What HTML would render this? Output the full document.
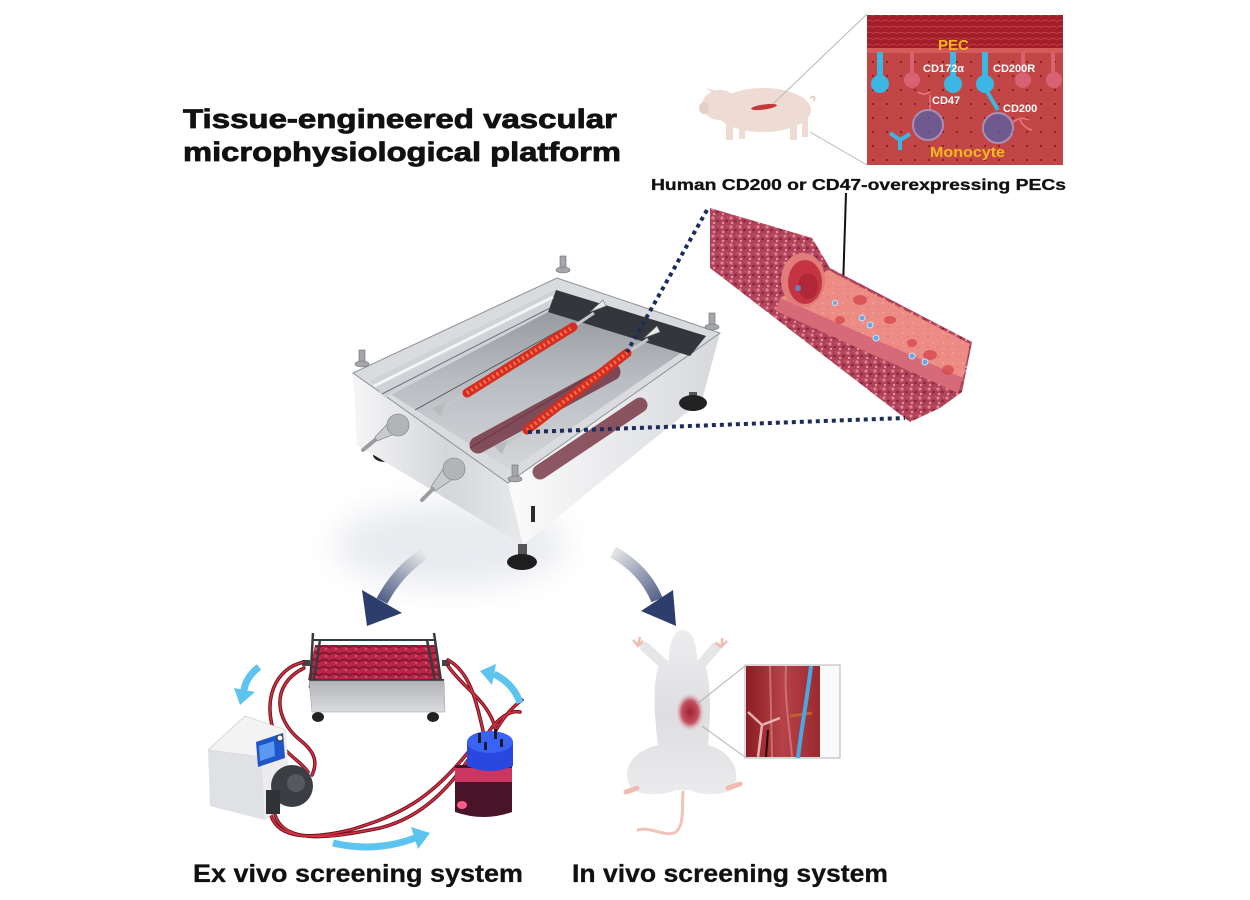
<!DOCTYPE html>
<html><head><meta charset="utf-8"><style>
html,body{margin:0;padding:0;background:#fff;}
svg{display:block;}
text{font-family:"Liberation Sans",Arial,sans-serif;font-weight:bold;}
</style></head><body>
<svg width="1250" height="900" viewBox="0 0 1250 900" xmlns="http://www.w3.org/2000/svg">
<defs>
<filter id="blur" x="-50%" y="-50%" width="200%" height="200%"><feGaussianBlur stdDeviation="16"/></filter>
<pattern id="vt" width="9" height="9" patternUnits="userSpaceOnUse">
<rect width="9" height="9" fill="#b0435a"/>
<circle cx="2" cy="2" r="1.6" fill="#dc8394"/><circle cx="6.5" cy="5" r="1.3" fill="#84243c"/>
<circle cx="3" cy="7" r="1.1" fill="#e89aaa"/><circle cx="7.6" cy="1" r="0.9" fill="#c85a70"/>
</pattern>
<pattern id="it" width="10" height="10" patternUnits="userSpaceOnUse">
<rect width="10" height="10" fill="#ec8c84"/><circle cx="3" cy="3" r="0.8" fill="#f7aca2"/><circle cx="8" cy="7" r="0.8" fill="#d87070"/>
</pattern>
<pattern id="dots" width="14" height="14" patternUnits="userSpaceOnUse">
<rect width="14" height="14" fill="#c34646"/><circle cx="5" cy="6" r="1.1" fill="#8a1e22"/>
</pattern>
<pattern id="musc" width="8" height="6" patternUnits="userSpaceOnUse">
<rect width="8" height="6" fill="#a31e28"/><path d="M0,4 Q4,1 8,3" stroke="#c0404a" stroke-width="1" fill="none"/>
</pattern>
<pattern id="cham" width="10" height="7" patternUnits="userSpaceOnUse">
<rect width="10" height="7" fill="#b8264a"/><path d="M0,3 Q5,0 10,4" stroke="#7a1028" stroke-width="1.4" fill="none"/><circle cx="6" cy="5" r="1" fill="#e45a78"/>
</pattern>
<linearGradient id="gLeft" x1="353" y1="0" x2="523" y2="0" gradientUnits="userSpaceOnUse">
<stop offset="0" stop-color="#f6f6f7"/><stop offset="0.55" stop-color="#d4d6d9"/><stop offset="1" stop-color="#e8e9eb"/></linearGradient>
<linearGradient id="gRight" x1="510" y1="0" x2="720" y2="0" gradientUnits="userSpaceOnUse">
<stop offset="0" stop-color="#fbfbfb"/><stop offset="1" stop-color="#d6d8dc"/></linearGradient>
<linearGradient id="gFloor" x1="0" y1="290" x2="0" y2="470" gradientUnits="userSpaceOnUse">
<stop offset="0" stop-color="#8c9096"/><stop offset="0.5" stop-color="#b9bcc1"/><stop offset="1" stop-color="#d4d6d9"/></linearGradient>
<linearGradient id="gArL" x1="422" y1="555" x2="375" y2="615" gradientUnits="userSpaceOnUse">
<stop offset="0" stop-color="#e2e3e6"/><stop offset="1" stop-color="#2d3e6e"/></linearGradient>
<linearGradient id="gArR" x1="615" y1="552" x2="668" y2="615" gradientUnits="userSpaceOnUse">
<stop offset="0" stop-color="#e2e3e6"/><stop offset="1" stop-color="#2d3e6e"/></linearGradient>
<linearGradient id="gMouse" x1="0" y1="630" x2="0" y2="800" gradientUnits="userSpaceOnUse">
<stop offset="0" stop-color="#ededef"/><stop offset="0.5" stop-color="#dedee1"/><stop offset="1" stop-color="#ececee"/></linearGradient>
<linearGradient id="gMus2" x1="746" y1="0" x2="820" y2="0" gradientUnits="userSpaceOnUse">
<stop offset="0" stop-color="#8c1e24"/><stop offset="0.5" stop-color="#b54248"/><stop offset="1" stop-color="#9a2a30"/></linearGradient>
<linearGradient id="gBody" x1="0" y1="680" x2="0" y2="713" gradientUnits="userSpaceOnUse">
<stop offset="0" stop-color="#b0b2b6"/><stop offset="1" stop-color="#dcdde0"/></linearGradient>
<radialGradient id="gWound" cx="0.5" cy="0.5" r="0.5"><stop offset="0" stop-color="#a02030"/><stop offset="0.6" stop-color="#c45060"/><stop offset="1" stop-color="#e0b0b4" stop-opacity="0"/></radialGradient>
</defs>
<rect width="1250" height="900" fill="#fff"/>

<!-- Title -->
<text x="183" y="128" font-size="27" textLength="434" lengthAdjust="spacingAndGlyphs" fill="#111" stroke="#111" stroke-width="0.8">Tissue-engineered vascular</text>
<text x="183" y="161" font-size="27" textLength="438" lengthAdjust="spacingAndGlyphs" fill="#111" stroke="#111" stroke-width="0.8">microphysiological platform</text>

<!-- Pig -->
<g fill="#eedbd3">
<ellipse cx="763" cy="110" rx="48" ry="22"/>
<ellipse cx="720" cy="105" rx="18" ry="15"/>
<ellipse cx="704" cy="108" rx="5" ry="6" fill="#e6cfc6"/>
<polygon points="714,94 706,88 722,92"/>
<rect x="726" y="118" width="7" height="22"/><rect x="739" y="120" width="6" height="19"/>
<rect x="790" y="118" width="7" height="22"/><rect x="802" y="118" width="6" height="19"/>
</g>
<path d="M810,98 q6,-4 4,3" stroke="#e6cfc6" stroke-width="2" fill="none"/>
<ellipse cx="764" cy="107" rx="13" ry="2.5" fill="#c63838" transform="rotate(-8 764 107)"/>
<line x1="773" y1="104" x2="867" y2="14" stroke="#b8b8b8" stroke-width="1"/>
<line x1="810" y1="132" x2="867" y2="165" stroke="#b8b8b8" stroke-width="1"/>

<!-- Top inset -->
<rect x="867" y="15" width="196" height="150" fill="url(#dots)"/>
<rect x="867" y="15" width="196" height="36" fill="url(#musc)"/>
<rect x="867" y="48" width="196" height="5" fill="#d55a5a"/>
<g fill="#d86272">
<rect x="910" y="52" width="4" height="20"/><circle cx="912" cy="80" r="8"/>
<rect x="1021" y="52" width="4" height="20"/><circle cx="1023" cy="80" r="8"/>
<rect x="1051" y="52" width="4" height="20"/><circle cx="1054" cy="80" r="8"/>
</g>
<g fill="#3cb6e2">
<rect x="877" y="52" width="6" height="25"/><circle cx="880" cy="84" r="9"/>
<rect x="950" y="52" width="6" height="25"/><circle cx="953" cy="84" r="9"/>
<rect x="982" y="52" width="6" height="25"/><circle cx="985" cy="84" r="9"/>
</g>
<path d="M986,90 L998,110" stroke="#3cb6e2" stroke-width="4"/>
<path d="M918,92 q6,4 12,0 M930,95 l0,15" stroke="#e47a86" stroke-width="1.5" fill="none"/>
<circle cx="928" cy="125" r="15" fill="#5460a8" opacity="0.75" stroke="#a0a8d8" stroke-width="2"/>
<circle cx="998" cy="128" r="15" fill="#5460a8" opacity="0.75" stroke="#a0a8d8" stroke-width="2"/>
<path d="M900,150 L900,140 L890,133 M900,140 L910,134" stroke="#3cb6e2" stroke-width="4" fill="none"/>
<path d="M1013,122 q8,-6 16,-2 M1020,120 q4,8 12,10" stroke="#e47a86" stroke-width="1.5" fill="none"/>
<text x="938" y="50" font-size="15" fill="#f4b820">PEC</text>
<text x="923" y="72" font-size="11" fill="#fff">CD172α</text>
<text x="993" y="72" font-size="11" fill="#fff">CD200R</text>
<text x="932" y="104" font-size="11" fill="#fff">CD47</text>
<text x="1003" y="112" font-size="11" fill="#fff">CD200</text>
<text x="930" y="157" font-size="15" fill="#f4b820" textLength="75" lengthAdjust="spacingAndGlyphs">Monocyte</text>

<text x="651" y="190" font-size="16" textLength="415" lengthAdjust="spacingAndGlyphs" fill="#111" stroke="#111" stroke-width="0.3">Human CD200 or CD47-overexpressing PECs</text>
<line x1="846" y1="193" x2="843" y2="288" stroke="#111" stroke-width="2"/>

<!-- Vessel -->
<polygon points="710,208 812,238 830,268 972,342 962,392 940,408 910,422 710,268" fill="url(#vt)"/>
<polygon points="780,298 828,270 970,344 963,378" fill="url(#it)"/>
<polygon points="780,298 963,378 958,393 776,311" fill="#d66a78"/>
<ellipse cx="803" cy="280" rx="22" ry="27" fill="#e27c78"/>
<ellipse cx="805" cy="282" rx="17" ry="22" fill="#c43442"/>
<ellipse cx="808" cy="286" rx="10" ry="13" fill="#b02838"/>
<g fill="#d84a50" opacity="0.8">
<ellipse cx="860" cy="300" rx="7" ry="5"/><ellipse cx="890" cy="320" rx="6" ry="4"/><ellipse cx="930" cy="355" rx="7" ry="5"/>
<ellipse cx="840" cy="320" rx="5" ry="4"/><ellipse cx="912" cy="343" rx="5" ry="4"/><ellipse cx="948" cy="370" rx="6" ry="5"/>
</g>
<g fill="#6aa8e0" stroke="#c8e4f6" stroke-width="1">
<circle cx="862" cy="318" r="3"/><circle cx="870" cy="325" r="3"/><circle cx="876" cy="338" r="3"/>
<circle cx="912" cy="356" r="3"/><circle cx="925" cy="362" r="3"/><circle cx="835" cy="303" r="2.5"/>
</g>
<circle cx="798" cy="288" r="3" fill="#6a80c0"/>

<!-- Device shadow -->
<ellipse cx="450" cy="545" rx="115" ry="42" fill="#c8ccd8" opacity="0.4" filter="url(#blur)"/>

<!-- Device -->
<ellipse cx="385" cy="455" rx="12" ry="7" fill="#222"/>
<polygon points="353,373 508,483 523,545 357,445" fill="url(#gLeft)"/>
<polygon points="508,483 720,333 702,400 523,545" fill="url(#gRight)"/>
<polygon points="353,373 557,278 720,333 508,483" fill="#d9dbde" stroke="#8e9196" stroke-width="1"/>
<polygon points="370,381 556,290 706,336 510,470" fill="url(#gFloor)"/>
<polygon points="556,290 706,336 690,356 548,312" fill="#33363a"/>
<polygon points="370,381 556,290 548,312 385,398" fill="#cfd2d6"/>
<line x1="374" y1="386" x2="553" y2="297" stroke="#f4f4f4" stroke-width="3"/>
<line x1="382" y1="394" x2="550" y2="308" stroke="#6c7074" stroke-width="1"/>
<line x1="415" y1="410" x2="560" y2="330" stroke="#4a4e52" stroke-width="0.8"/>
<line x1="470" y1="448" x2="620" y2="358" stroke="#5a5e62" stroke-width="0.8"/>
<line x1="478" y1="445" x2="612" y2="372" stroke="#6a2232" stroke-width="17" stroke-linecap="round" opacity="0.75"/>
<line x1="540" y1="472" x2="640" y2="405" stroke="#6a2232" stroke-width="15" stroke-linecap="round" opacity="0.75"/>
<!-- tubes -->
<line x1="438" y1="411" x2="467" y2="393" stroke="#c4c6ca" stroke-width="3"/>
<line x1="573" y1="327" x2="594" y2="313" stroke="#c4c6ca" stroke-width="3"/>
<line x1="500" y1="448" x2="527" y2="430" stroke="#c4c6ca" stroke-width="3"/>
<line x1="627" y1="353" x2="648" y2="339" stroke="#c4c6ca" stroke-width="3"/>
<polygon points="590,312 603,300 606,306" fill="#e8e9eb" stroke="#777" stroke-width="0.6"/>
<polygon points="644,338 657,326 660,332" fill="#e8e9eb" stroke="#777" stroke-width="0.6"/>
<polygon points="432,408 446,402 440,416" fill="#b8babe"/>
<polygon points="494,446 508,440 502,454" fill="#b8babe"/>
<line x1="467" y1="393" x2="573" y2="327" stroke="#d42e20" stroke-width="9" stroke-linecap="round"/>
<line x1="467" y1="393" x2="573" y2="327" stroke="#ff7250" stroke-width="4" stroke-dasharray="2 3"/>
<line x1="527" y1="430" x2="627" y2="353" stroke="#d42e20" stroke-width="9" stroke-linecap="round"/>
<line x1="527" y1="430" x2="627" y2="353" stroke="#ff7250" stroke-width="4" stroke-dasharray="2 3"/>
<!-- bolts -->
<g fill="#a4a6aa" stroke="#6a6c70" stroke-width="0.6">
<rect x="359" y="350" width="6" height="14"/><ellipse cx="362" cy="364" rx="7" ry="3"/>
<rect x="560" y="256" width="6" height="14"/><ellipse cx="563" cy="270" rx="7" ry="3"/>
<rect x="709" y="313" width="6" height="14"/><ellipse cx="712" cy="327" rx="7" ry="3"/>
<rect x="512" y="465" width="6" height="14"/><ellipse cx="515" cy="479" rx="7" ry="3"/>
</g>
<!-- nozzles -->
<g stroke="#777a7e" stroke-width="0.6">
<polygon points="402,431 392,419 375,437 377,441" fill="#c8cacd"/>
<circle cx="398" cy="425" r="11" fill="#b2b4b8"/>
<line x1="375" y1="440" x2="363" y2="450" stroke="#9a9ca0" stroke-width="4" stroke-linecap="round"/>
<polygon points="459,475 447,463 431,487 435,491" fill="#c8cacd"/>
<circle cx="454" cy="469" r="11" fill="#b2b4b8"/>
<line x1="433" y1="489" x2="422" y2="500" stroke="#9a9ca0" stroke-width="4" stroke-linecap="round"/>
</g>
<rect x="531" y="506" width="4" height="16" fill="#2a2a2a"/>
<rect x="518" y="544" width="9" height="12" fill="#555"/>
<ellipse cx="522" cy="562" rx="15" ry="8" fill="#1e1e1e"/>
<rect x="689" y="392" width="8" height="8" fill="#555"/>
<ellipse cx="693" cy="403" rx="14" ry="8" fill="#222"/>

<!-- dotted connectors -->
<line x1="707" y1="210" x2="627" y2="352" stroke="#1c2c5c" stroke-width="4" stroke-dasharray="4 4"/>
<line x1="528" y1="432" x2="905" y2="418" stroke="#1c2c5c" stroke-width="4" stroke-dasharray="4 4"/>

<!-- big arrows -->
<path d="M424,554 Q397,572 382,601" stroke="url(#gArL)" stroke-width="12" fill="none"/>
<polygon points="362,590 402,613 367,626" fill="#2d3e6e"/>
<path d="M613,552 Q645,570 657,600" stroke="url(#gArR)" stroke-width="12" fill="none"/>
<polygon points="641,611 673,590 676,626" fill="#2d3e6e"/>

<!-- Ex vivo: small device -->
<polygon points="315,645 436,645 442,680 308,680" fill="url(#cham)"/>
<line x1="313" y1="640" x2="434" y2="640" stroke="#3a3a3e" stroke-width="2"/>
<line x1="310" y1="680" x2="444" y2="680" stroke="#3a3a3e" stroke-width="2"/>
<g stroke="#3a3a3e" stroke-width="2.5">
<line x1="313" y1="633" x2="310" y2="688"/><line x1="434" y1="633" x2="442" y2="688"/>
<line x1="320" y1="640" x2="314" y2="680"/><line x1="427" y1="640" x2="435" y2="680"/>
</g>
<rect x="302" y="660" width="8" height="6" fill="#444"/><rect x="442" y="660" width="8" height="6" fill="#444"/>
<polygon points="309,681 444,681 445,712 312,712" fill="url(#gBody)" stroke="#999" stroke-width="0.5"/>
<ellipse cx="318" cy="717" rx="6" ry="5" fill="#222"/><ellipse cx="433" cy="717" rx="6" ry="5" fill="#222"/>

<!-- tubing -->
<g fill="none" stroke="#6a1420" stroke-width="3.5" stroke-linecap="round">
<path d="M304,662 C275,668 262,700 275,735 C285,755 300,760 308,772"/>
<path d="M304,668 C270,685 275,720 300,740 C315,752 318,762 312,775"/>
<path d="M270,812 C275,835 300,842 350,830 C400,815 430,800 470,750"/>
<path d="M275,815 C285,845 330,838 380,828 C420,818 450,790 478,745"/>
<path d="M448,660 C470,672 476,700 484,735"/>
<path d="M448,666 C465,690 488,700 496,730"/>
<path d="M496,730 C505,715 515,705 522,700"/>
<path d="M488,733 C498,718 510,710 520,712"/>
</g>
<g fill="none" stroke="#d83040" stroke-width="1.6" stroke-linecap="round">
<path d="M304,662 C275,668 262,700 275,735 C285,755 300,760 308,772"/>
<path d="M304,668 C270,685 275,720 300,740 C315,752 318,762 312,775"/>
<path d="M270,812 C275,835 300,842 350,830 C400,815 430,800 470,750"/>
<path d="M275,815 C285,845 330,838 380,828 C420,818 450,790 478,745"/>
<path d="M448,660 C470,672 476,700 484,735"/>
<path d="M448,666 C465,690 488,700 496,730"/>
<path d="M496,730 C505,715 515,705 522,700"/>
<path d="M488,733 C498,718 510,710 520,712"/>
</g>

<!-- pump -->
<polygon points="208,750 245,716 286,730 262,757" fill="#f3f3f4" stroke="#c8c8cc" stroke-width="0.6"/>
<polygon points="208,750 262,757 265,820 210,806" fill="#e0e1e4"/>
<polygon points="262,757 286,730 290,800 265,820" fill="#ececee"/>
<polygon points="256,742 283,733 285,758 258,767" fill="#1f55c8"/>
<polygon points="259,746 274,741 275,756 260,761" fill="#5a9af0"/>
<circle cx="280" cy="738" r="3" fill="#fff" stroke="#333" stroke-width="1"/>
<circle cx="292" cy="786" r="21" fill="#3b3e42"/>
<rect x="266" y="790" width="14" height="24" fill="#2f3236"/>
<circle cx="296" cy="783" r="9" fill="#55595e"/>

<!-- bottle -->
<path d="M455,765 L512,765 L512,812 Q484,822 455,812 Z" fill="#4a1428"/>
<rect x="455" y="768" width="57" height="14" fill="#e03c6a" opacity="0.85"/>
<ellipse cx="462" cy="805" rx="5" ry="4" fill="#ff5a8a"/>
<path d="M467,742 L467,766 Q490,776 513,766 L513,742 Z" fill="#2848e0"/>
<ellipse cx="490" cy="742" rx="23" ry="11" fill="#3a62f4"/>
<g fill="#1a1a2a"><rect x="478" y="733" width="3" height="10"/><rect x="494" y="729" width="3" height="10"/><rect x="484" y="742" width="3" height="8"/><rect x="500" y="739" width="3" height="8"/></g>

<!-- blue circulation arrows -->
<g stroke="#5cc4ee" stroke-width="7" fill="none">
<path d="M259,667 Q246,677 244,690"/>
<path d="M520,703 Q514,684 494,674"/>
<path d="M333,843 Q375,853 415,838"/>
</g>
<g fill="#5cc4ee">
<polygon points="234,688 255,692 240,705"/>
<polygon points="480,671 496,664 492,685"/>
<polygon points="430,833 411,827 418,849"/>
</g>

<!-- Mouse -->
<path d="M668,668 L645,647 M698,668 L716,647" stroke="#e6e6e8" stroke-width="10" stroke-linecap="round"/>
<path d="M633,640 l5,6 l5,-5 M640,637 l-2,8 M716,643 l5,4 l6,-6 M722,638 l0,8" stroke="#f0bcb2" stroke-width="2.5" fill="none"/>
<path d="M683,630 C693,630 697,645 697,660 L706,668 C712,690 710,720 708,745 C734,752 742,775 732,790 C718,796 700,795 690,790 L676,790 C665,795 645,796 632,790 C620,772 630,752 658,745 C655,720 652,690 658,668 L669,660 C669,645 673,630 683,630 Z" fill="url(#gMouse)"/>
<path d="M637,788 L626,792 M728,788 L740,784" stroke="#f0bcb2" stroke-width="5" stroke-linecap="round"/>
<path d="M683,792 C682,810 684,825 676,832 C666,838 650,826 638,830" stroke="#f0c4bb" stroke-width="3" fill="none" stroke-linecap="round"/>
<ellipse cx="690" cy="712" rx="14" ry="19" fill="url(#gWound)"/>
<line x1="697" y1="704" x2="745" y2="666" stroke="#b0b0b0" stroke-width="1"/>
<line x1="702" y1="726" x2="745" y2="757" stroke="#b0b0b0" stroke-width="1"/>
<rect x="745" y="665" width="95" height="93" fill="#fafafa" stroke="#b4b4b4" stroke-width="1"/>
<rect x="746" y="666" width="74" height="91" fill="url(#gMus2)"/>
<path d="M770,666 L772,757 M786,666 C784,700 790,730 792,757" stroke="#d47a7e" stroke-width="2" fill="none" opacity="0.8"/>
<path d="M758,757 L762,725 L748,712 M762,725 L780,718" stroke="#e8b0b0" stroke-width="2.5" fill="none"/>
<path d="M766,757 L768,730" stroke="#2a0808" stroke-width="2"/>
<path d="M790,716 L812,713" stroke="#c06030" stroke-width="3"/>
<path d="M811,666 C807,700 801,730 798,758" stroke="#4aa8e0" stroke-width="4" fill="none"/>

<!-- Bottom labels -->
<text x="193" y="882" font-size="25" textLength="330" lengthAdjust="spacingAndGlyphs" fill="#111" stroke="#111" stroke-width="0.3">Ex vivo screening system</text>
<text x="572" y="882" font-size="25" textLength="316" lengthAdjust="spacingAndGlyphs" fill="#111" stroke="#111" stroke-width="0.3">In vivo screening system</text>
</svg>
</body></html>
